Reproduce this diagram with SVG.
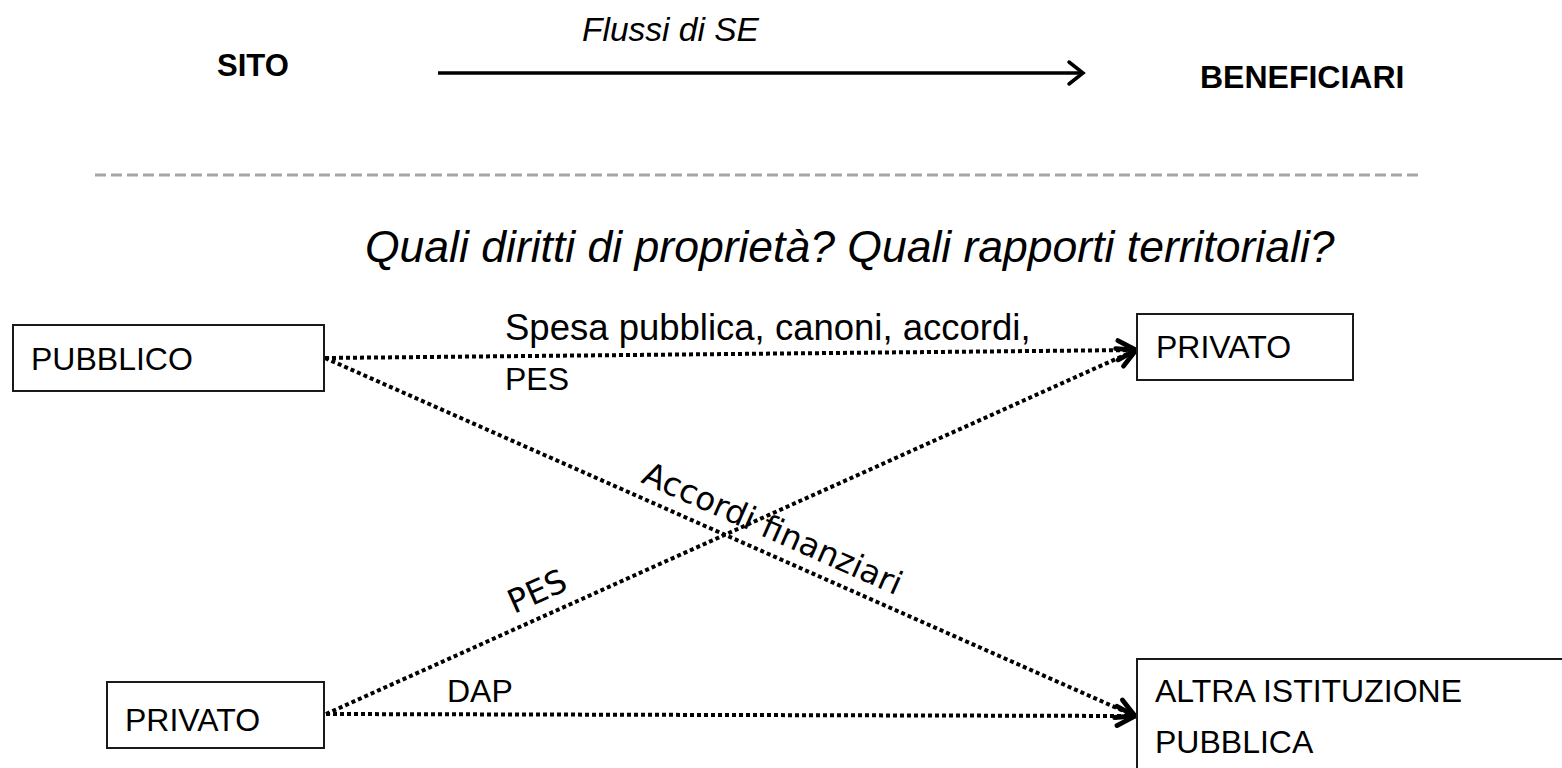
<svg xmlns="http://www.w3.org/2000/svg" width="1562" height="768" viewBox="0 0 1562 768">
<style>
  .t { font-family: "Liberation Sans", Arial, sans-serif; fill: #000; }
  .box { fill: #fff; stroke: #1a1a1a; stroke-width: 2; }
  .dot { fill: none; stroke: #000; stroke-width: 4; stroke-dasharray: 4 3; }
  .rot { font-family: "DejaVu Sans", sans-serif; font-size: 32.5px; fill: #000; }
</style>
<defs>
  <marker id="chev" markerUnits="userSpaceOnUse" markerWidth="24" markerHeight="24" viewBox="-2 -2 20 20" refX="15" refY="8" orient="auto" overflow="visible">
    <path d="M0,0 L15,8 L0,16" fill="none" stroke="#000" stroke-width="4" stroke-dasharray="none" stroke-linecap="round" stroke-linejoin="miter"/>
  </marker>
</defs>

<g id="header">
  <text class="t" x="217" y="76" font-size="31" font-weight="bold">SITO</text>
  <text class="t" x="1200" y="88" font-size="32" font-weight="bold">BENEFICIARI</text>
  <text class="t" x="582" y="41" font-size="33.5" font-style="italic">Flussi di SE</text>
  <line x1="438" y1="73" x2="1081" y2="73" stroke="#000" stroke-width="3.5"/>
  <path d="M1069,62 L1083,73 L1069,84" fill="none" stroke="#000" stroke-width="3.5" stroke-linecap="round"/>
  <line x1="95" y1="175" x2="1418" y2="175" stroke="#a6a6a6" stroke-width="3" stroke-dasharray="11 5"/>
  <text class="t" x="365" y="262" font-size="44.5" font-style="italic">Quali diritti di proprietà? Quali rapporti territoriali?</text>
</g>

<g id="connectors">
  <line class="dot" x1="325" y1="358" x2="1136" y2="350" marker-end="url(#chev)"/>
  <line class="dot" x1="325" y1="358" x2="1135" y2="716" marker-end="url(#chev)"/>
  <line class="dot" x1="326" y1="714" x2="1136" y2="350" marker-end="url(#chev)"/>
  <line class="dot" x1="326" y1="714" x2="1135" y2="716" marker-end="url(#chev)"/>
  <text class="t" x="505" y="340" font-size="36.5">Spesa pubblica, canoni, accordi,</text>
  <text class="t" x="505" y="390" font-size="32">PES</text>
  <text class="t" x="447" y="702" font-size="32">DAP</text>
  <text class="rot" transform="translate(640,482) rotate(23.9)">Accordi finanziari</text>
  <text class="rot" transform="translate(514,614) rotate(-24.2)">PES</text>
</g>

<g id="node-pubblico">
  <rect class="box" x="13" y="325" width="311" height="66"/>
  <text class="t" x="31" y="370" font-size="32">PUBBLICO</text>
</g>

<g id="node-privato-src">
  <rect class="box" x="107" y="682" width="217" height="66"/>
  <text class="t" x="125" y="731" font-size="32">PRIVATO</text>
</g>

<g id="node-privato-dst">
  <rect class="box" x="1137" y="314" width="216" height="66"/>
  <text class="t" x="1156" y="358" font-size="32">PRIVATO</text>
</g>

<g id="node-altra">
  <rect class="box" x="1137" y="659" width="440" height="130"/>
  <text class="t" x="1155" y="702" font-size="32">ALTRA ISTITUZIONE</text>
  <text class="t" x="1155" y="753" font-size="32">PUBBLICA</text>
</g>
</svg>
